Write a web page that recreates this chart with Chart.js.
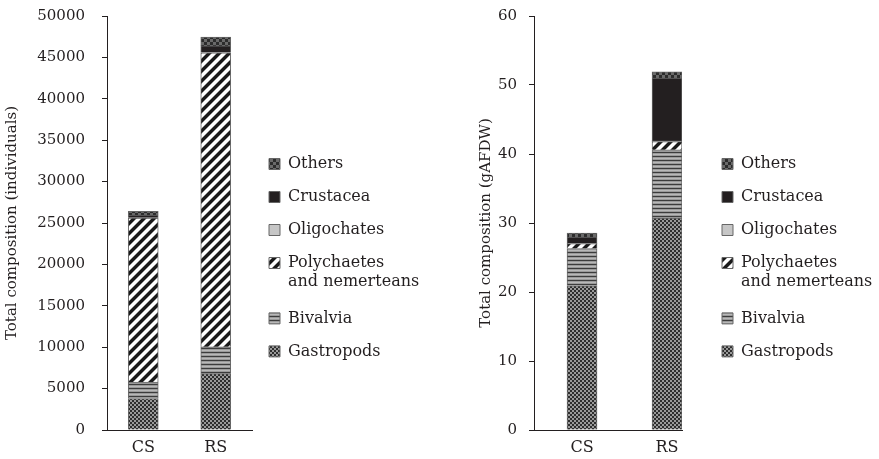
<!DOCTYPE html>
<html lang="en">
<head>
    <meta charset="UTF-8">
    <title>Total composition</title>
    <script src="https://cdn.jsdelivr.net/npm/chart.js"></script>
    <style>
        body { margin: 0; background: #fff; }
        .box { position: absolute; top: 0; }
    </style>
</head>
<body>
    <div class="box" style="left:0"><canvas id="countChart" width="440" height="459"></canvas></div>
    <div class="box" style="left:440px"><canvas id="massChart" width="439" height="459"></canvas></div>

    <script>
        // Sites and groups
        const categories = ['CS', 'RS'];
        const groups = ['Gastropods', 'Bivalvia', 'Polychaetes\nand nemerteans', 'Oligochates', 'Crustacea', 'Others'];

        // Total composition (individuals), [CS, RS]
        const gastropodsN = [3800, 6800];
        const bivalviaN = [2000, 3250];
        const polychaetesN = [19800, 35500];
        const oligochatesN = [20, 40];
        const crustaceaN = [350, 800];
        const othersN = [450, 1050];

        // Total composition (gAFDW), [CS, RS]
        const gastropodsW = [20.9, 30.7];
        const bivalviaW = [5.4, 9.9];
        const polychaetesW = [0.7, 1.2];
        const oligochatesW = [0.05, 0.1];
        const crustaceaW = [0.9, 9.1];
        const othersW = [0.6, 0.9];

        // Axis ranges
        const yMaxN = 50000, yStepN = 5000;
        const yMaxW = 60, yStepW = 10;

        Chart.defaults.font.family = "'DejaVu Serif', serif";
        Chart.defaults.color = '#231f20';

        // pattern helpers
        function tile(w, h, paint) {
            const c = document.createElement('canvas');
            c.width = w; c.height = h;
            const g = c.getContext('2d');
            paint(g);
            return g.createPattern(c, 'repeat');
        }
        function checker(size, dark, light) {
            return tile(size * 2, size * 2, g => {
                g.fillStyle = light; g.fillRect(0, 0, size * 2, size * 2);
                g.fillStyle = dark; g.fillRect(0, 0, size, size); g.fillRect(size, size, size, size);
            });
        }
        const stripes = tile(4, 4, g => {
            const rows = ['#3c3c3c', '#9a9a9a', '#b8b8b8', '#9a9a9a'];
            rows.forEach((c, i) => { g.fillStyle = c; g.fillRect(0, i, 4, 1); });
        });
        const hatch = tile(10, 10, g => {
            const img = g.createImageData(10, 10);
            for (let y = 0; y < 10; y++) for (let x = 0; x < 10; x++) {
                const d = (x + y) % 10;
                const v = d < 4 ? 25 : (d === 4 || d === 9 ? 150 : 255);
                const k = (y * 10 + x) * 4;
                img.data[k] = img.data[k + 1] = img.data[k + 2] = v; img.data[k + 3] = 255;
            }
            g.putImageData(img, 0, 0);
        });
        const fills = [
            checker(2, '#2e2e2e', '#9a9a9a'),
            stripes,
            hatch,
            '#c6c6c6',
            '#231f20',
            checker(3, '#2c2c2c', '#6a6a6a')
        ];

        function makeChart(id, series, cfg) {
            const scales = {
                x: {
                    type: 'linear', stacked: true, offset: false,
                    min: cfg.xMin, max: cfg.xMax,
                    grid: { display: false, offset: false },
                    border: { color: '#231f20' },
                    afterBuildTicks: s => { s.ticks = categories.map((c, i) => ({ value: i + 1 })); },
                    afterFit: s => { s.height = 29; },
                    ticks: { padding: 0, font: { size: 16 }, callback: v => categories[v - 1] }
                },
                y: {
                    stacked: true, min: 0, max: cfg.yMax,
                    afterFit: s => { s.width = cfg.axisWidth; s.paddingTop = 9; s.paddingBottom = 9; },
                    ticks: { stepSize: cfg.yStep, padding: cfg.tickPad, font: { size: 15 }, callback: v => v },
                    grid: { drawOnChartArea: false, tickLength: 5, color: '#231f20' },
                    border: { color: '#231f20' },
                    title: { display: true, text: cfg.title, font: { size: 15 }, padding: { top: cfg.titleTop, bottom: 0 } }
                }
            };
            if (cfg.gap) {
                scales.gap = {
                    type: 'linear', position: 'right', display: true,
                    grid: { display: false }, border: { display: false }, ticks: { display: false },
                    afterFit: s => { s.width = cfg.gap; s.paddingTop = 0; s.paddingBottom = 0; }
                };
            }
            return new Chart(document.getElementById(id), {
                type: 'bar',
                data: {
                    datasets: series.map((vals, k) => ({
                        label: groups[k],
                        data: vals.map((v, i) => ({ x: i + 1, y: v })),
                        backgroundColor: fills[k],
                        borderColor: '#666666',
                        borderWidth: 1,
                        barThickness: 30
                    }))
                },
                options: {
                    responsive: false,
                    animation: false,
                    layout: { padding: { top: 16, bottom: 0, left: 0, right: cfg.padRight } },
                    plugins: {
                        tooltip: { enabled: false },
                        legend: {
                            position: 'right',
                            reverse: true,
                            maxWidth: 170,
                            title: { display: true, text: '', padding: { top: 26, bottom: 0 } },
                            labels: {
                                boxWidth: 11, boxHeight: 11, padding: 17,
                                font: { size: 16 },
                                generateLabels: chart => Chart.defaults.plugins.legend.labels.generateLabels(chart)
                                    .map(it => Object.assign(it, { text: it.text.includes('\n') ? it.text.split('\n') : it.text }))
                            }
                        }
                    },
                    scales: scales
                }
            });
        }

        makeChart('countChart',
            [gastropodsN, bivalviaN, polychaetesN, oligochatesN, crustaceaN, othersN],
            { yMax: yMaxN, yStep: yStepN, title: 'Total composition (individuals)',
              axisWidth: 107, tickPad: 17, titleTop: 3, xMin: 0.5, xMax: 2.5, padRight: 18 });

        makeChart('massChart',
            [gastropodsW, bivalviaW, polychaetesW, oligochatesW, crustaceaW, othersW],
            { yMax: yMaxW, yStep: yStepW, title: 'Total composition (gAFDW)',
              axisWidth: 94, tickPad: 12, titleTop: 37, xMin: 0.435, xMax: 2.176, padRight: 4, gap: 23 });
    </script>
</body>
</html>
